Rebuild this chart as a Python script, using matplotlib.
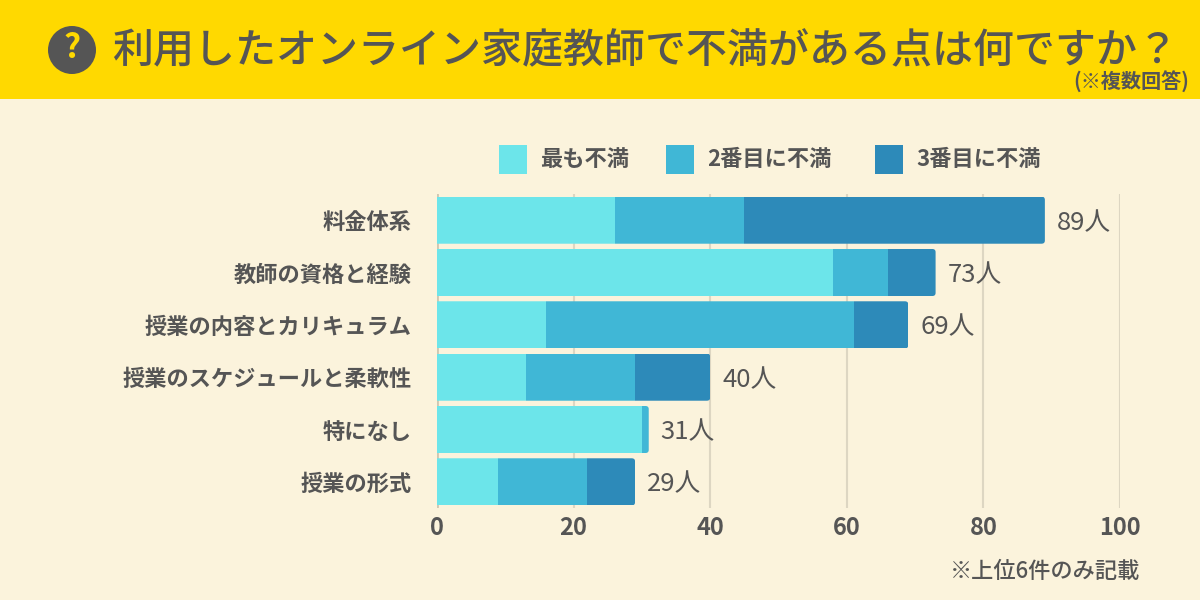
import matplotlib
matplotlib.use('Agg')
import matplotlib.pyplot as plt
from matplotlib.patches import Rectangle, FancyBboxPatch, Circle

plt.rcParams['font.family'] = ['Noto Sans CJK JP', 'DejaVu Sans']

categories = ['料金体系', '教師の資格と経験', '授業の内容とカリキュラム',
              '授業のスケジュールと柔軟性', '特になし', '授業の形式']
first = [26, 58, 16, 13, 30, 9]
second = [19, 8, 45, 16, 1, 13]
third = [44, 7, 8, 11, 0, 7]
totals = [89, 73, 69, 40, 31, 29]
series_names = ['最も不満', '2番目に不満', '3番目に不満']
xticks = [0, 20, 40, 60, 80, 100]

text_color = '#555555'
bg = '#FBF3DC'
yellow = '#FFD900'
colors = ['#6CE5EA', '#40B7D6', '#2D8AB9']

fig = plt.figure(figsize=(12, 6), dpi=100, facecolor=bg)

# full figure layer in pixels for the banner and legend
bgax = fig.add_axes([0, 0, 1, 1])
bgax.set_xlim(0, 1200)
bgax.set_ylim(600, 0)
bgax.axis('off')
bgax.add_patch(Rectangle((0, 0), 1200, 99, color=yellow, lw=0))
bgax.add_patch(Circle((72, 50), 24, color=text_color, lw=0))
bgax.text(72, 49, '?', color=yellow, fontsize=24, fontweight='bold', ha='center', va='center')
bgax.text(112, 52, '利用したオンライン家庭教師で不満がある点は何ですか？', color=text_color,
          fontsize=29.5, fontweight='medium', ha='left', va='center')
bgax.text(1189, 82, '(※複数回答)', color=text_color, fontsize=14.5, fontweight='bold',
          ha='right', va='center')

legend_x = [499, 666, 875]
for x, name, c in zip(legend_x, series_names, colors):
    bgax.add_patch(Rectangle((x, 145), 28, 29, color=c, lw=0))
    bgax.text(x + 41, 160, name, color=text_color, fontsize=16, fontweight='bold',
              ha='left', va='center')
bgax.text(1140, 571, '※上位6件のみ記載', color=text_color, fontsize=16, fontweight='medium',
          ha='right', va='center')

ax = fig.add_axes([437 / 1200, 1 - 508 / 600, 683 / 1200, 314 / 600])
ax.patch.set_alpha(0)
ax.set_xlim(0, 100)
ax.set_ylim(5.5, -0.5)
ys = range(len(categories))
bar_h = 0.9

ax.set_axisbelow(True)
ax.grid(axis='x', color='#DDD6C2', lw=1.5)
for s in ax.spines.values():
    s.set_visible(False)
ax.axvline(0, color='#CFC7B2', lw=2, zorder=1)

left = [0] * len(categories)
for vals, c in zip([first, second, third], colors):
    bars = ax.barh(ys, vals, left=left, height=bar_h, color=c, lw=0, zorder=2)
    for i, bar in enumerate(bars):
        # round the right end of the stack only
        clip = FancyBboxPatch((-8, i - bar_h / 2), totals[i] + 8, bar_h,
                              boxstyle='round,pad=0,rounding_size=0.5',
                              mutation_aspect=0.12, transform=ax.transData)
        bar.set_clip_path(clip)
    left = [a + b for a, b in zip(left, vals)]

for i, t in enumerate(totals):
    ax.text(t + 1.75, i + 0.05, f'{t}人', color=text_color, fontsize=18.5, ha='left', va='center')

ax.set_yticks(list(ys))
ax.set_yticklabels(categories, color=text_color, fontsize=16, fontweight='bold')
ax.set_xticks(xticks)
ax.set_xticklabels(xticks, color=text_color, fontsize=17, fontweight='bold')
ax.tick_params(axis='both', length=0)
ax.tick_params(axis='y', pad=18)
ax.tick_params(axis='x', pad=6)

fig.savefig('out.png', dpi=100, facecolor=bg)
